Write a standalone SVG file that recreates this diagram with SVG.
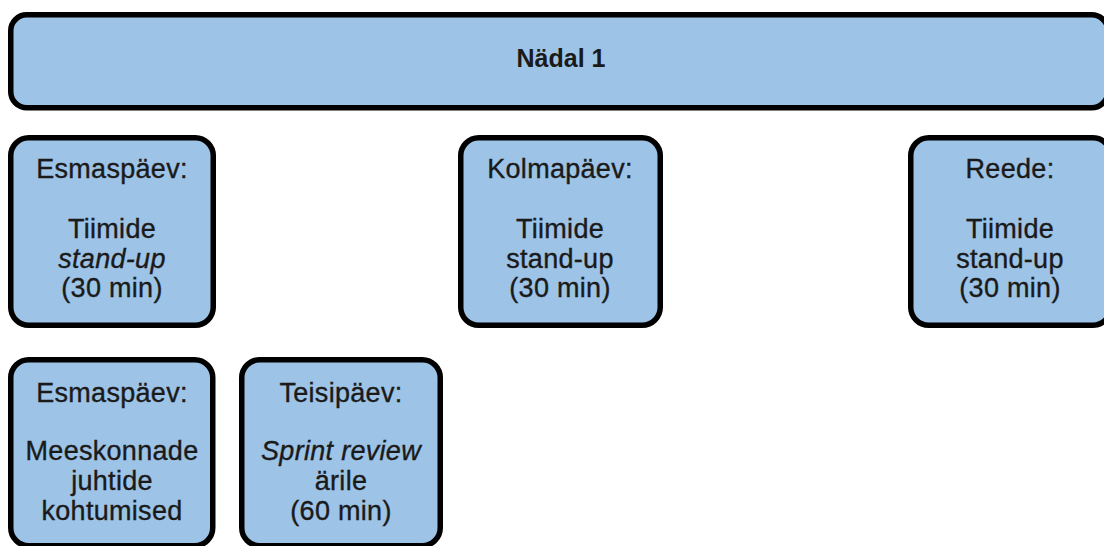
<svg xmlns="http://www.w3.org/2000/svg" width="1104" height="546" viewBox="0 0 1104 546">
  <style>
    .box { fill: #9dc3e6; stroke: #000; stroke-width: 5.5; }
    text { font-family: "Liberation Sans", Arial, sans-serif; font-size: 27px; letter-spacing: 0.3px; fill: #1a1a1a; stroke: #1a1a1a; stroke-width: 0.35; text-anchor: middle; }
    .title { font-weight: bold; font-size: 25px; letter-spacing: 0; stroke-width: 0; }
    .em { font-style: italic; }
  </style>
  <rect width="1104" height="546" fill="#ffffff"/>

  <g id="week">
    <rect class="box" x="10.75" y="14.75" width="1097" height="93" rx="16"/>
    <text class="title" x="561" y="67">Nädal 1</text>
  </g>

  <g id="monday-standup">
    <rect class="box" x="10.75" y="137.75" width="202.5" height="187.5" rx="18"/>
    <text x="112" y="178">Esmaspäev:</text>
    <text x="112" y="238">Tiimide</text>
    <text x="112" y="268" class="em">stand-up</text>
    <text x="112" y="297">(30 min)</text>
  </g>

  <g id="wednesday-standup">
    <rect class="box" x="460.75" y="137.75" width="199.5" height="187.5" rx="18"/>
    <text x="560" y="178">Kolmapäev:</text>
    <text x="560" y="238">Tiimide</text>
    <text x="560" y="268">stand-up</text>
    <text x="560" y="297">(30 min)</text>
  </g>

  <g id="friday-standup">
    <rect class="box" x="910.75" y="137.75" width="200" height="187.5" rx="18"/>
    <text x="1010" y="178">Reede:</text>
    <text x="1010" y="238">Tiimide</text>
    <text x="1010" y="268">stand-up</text>
    <text x="1010" y="297">(30 min)</text>
  </g>

  <g id="monday-leads">
    <rect class="box" x="10.75" y="359.75" width="202" height="186" rx="18"/>
    <text x="112" y="402">Esmaspäev:</text>
    <text x="112" y="460">Meeskonnade</text>
    <text x="112" y="490">juhtide</text>
    <text x="112" y="520">kohtumised</text>
  </g>

  <g id="tuesday-review">
    <rect class="box" x="241.75" y="359.75" width="198.5" height="186" rx="18"/>
    <text x="341" y="402">Teisipäev:</text>
    <text x="341" y="460" class="em">Sprint review</text>
    <text x="341" y="490">ärile</text>
    <text x="341" y="520">(60 min)</text>
  </g>

  <g id="connectors"></g>
</svg>
